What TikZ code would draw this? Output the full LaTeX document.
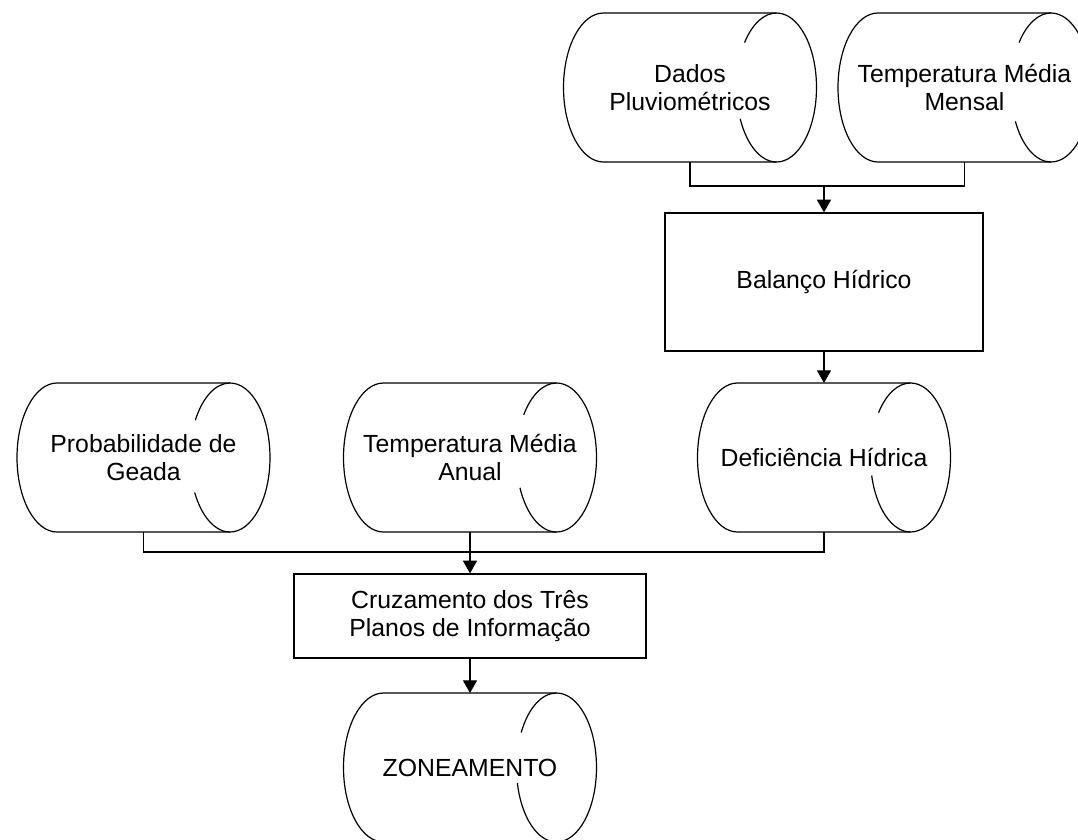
\documentclass[tikz,border=0pt]{standalone}
\usepackage{fontspec}
\setmainfont{Liberation Sans}
\usetikzlibrary{arrows.meta}
\tikzset{
    datastore/.style={rectangle, align=center, minimum width=189.75pt, minimum height=111.75pt, inner sep=0pt, outer sep=0pt},
    drumline/.style={draw=black, line width=0.9pt},
    process/.style={rectangle, draw=black, line width=0.9pt, align=center, inner sep=0pt},
    link/.style={draw=black, line width=0.9pt},
    flow/.style={draw=black, line width=0.9pt, -{Triangle[width=10.5pt,length=9.5pt]}},
}

\begin{document}
\begin{tikzpicture}[x=0.75pt, y=0.75pt, font=\fontsize{18.6}{21}\selectfont]
	\useasboundingbox (0,-839) rectangle (1078,0);
	% water balance inputs
	\node[datastore] (dados) at (690,-87.5) {Dados\\Pluviométricos};
	\node[datastore] (mensal) at (964.5,-87.5) {Temperatura Média\\Mensal};
	\node[process, minimum width=238.5pt, minimum height=103.5pt] (balanco) at (824,-282) {Balanço Hídrico};
	% the three layers
	\node[datastore] (geada) at (143.5,-457.5) {Probabilidade de\\Geada};
	\node[datastore] (anual) at (470,-457.5) {Temperatura Média\\Anual};
	\node[datastore] (deficiencia) at (824,-457.5) {Deficiência Hídrica};
	\node[process, minimum width=264pt, minimum height=63pt] (cruzamento) at (470,-616) {Cruzamento dos Três\\Planos de Informação};
	\node[datastore] (zoneamento) at (470,-767.5) {ZONEAMENTO};
	% drum outlines, inner arc broken behind the text
	\foreach \n/\a/\b in {dados/143/205, mensal/143/207, geada/150/208, anual/145/204, deficiencia/143/194, zoneamento/152/192} {
		\draw[drumline] ([xshift=30pt]\n.north west) arc[start angle=90, end angle=270, x radius=30pt, y radius=55.875pt]
			-- ([xshift=-30pt]\n.south east) arc[start angle=-90, end angle=90, x radius=30pt, y radius=55.875pt] -- cycle;
		\draw[drumline] ([xshift=-30pt]\n.north east) arc[start angle=90, end angle=\a, x radius=30pt, y radius=55.875pt];
		\draw[drumline] ([xshift=-30pt]\n.south east) arc[start angle=270, end angle=\b, x radius=30pt, y radius=55.875pt];
	}
	% connectors
	\coordinate (topjoin) at (824,-186);
	\draw[link] (dados.south) |- (topjoin) -| (mensal.south);
	\draw[flow] (topjoin) -- (balanco.north);
	\draw[flow] (balanco.south) -- (deficiencia.north);
	\coordinate (lowjoin) at (470,-552);
	\draw[link] (geada.south) |- (lowjoin);
	\draw[link] (deficiencia.south) |- (lowjoin);
	\draw[flow] (anual.south) -- (cruzamento.north);
	\draw[flow] (cruzamento.south) -- (zoneamento.north);
\end{tikzpicture}
\end{document}
